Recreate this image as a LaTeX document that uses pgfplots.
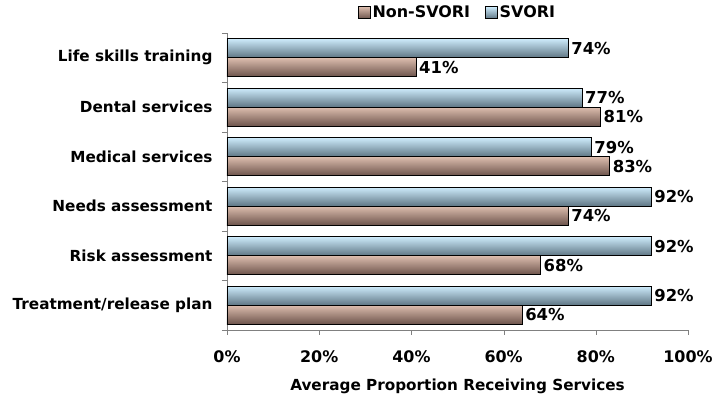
\documentclass[border=0pt]{standalone}
\usepackage{pgfplots}
\pgfplotsset{compat=1.18}
\usepackage{fontspec}
\setmainfont{DejaVu Sans}
\definecolor{bluetop}{HTML}{CDEBFB}
\definecolor{bluebot}{HTML}{5E7583}
\definecolor{browntop}{HTML}{DCBDAE}
\definecolor{brownbot}{HTML}{6C534B}
\definecolor{axgray}{HTML}{808080}
\pgfplotsset{
  nonsv/.style={draw=black, line width=0.8pt, top color=browntop, bottom color=brownbot, bar shift=-9.5bp},
  sv/.style={draw=black, line width=0.8pt, top color=bluetop, bottom color=bluebot, bar shift=9.5bp},
}
\begin{document}
\begin{tikzpicture}
\path[use as bounding box] (0,0) rectangle (716bp,400bp);
\begin{axis}[
  at={(227bp,70bp)}, anchor=south west,
  scale only axis, width=461bp, height=297bp,
  xbar=0pt, bar width=19bp,
  xmin=0, xmax=100, ymin=-0.5, ymax=5.5,
  axis x line*=bottom, axis y line*=left,
  axis line style={draw=axgray, -},
  xtick={0,20,...,100},
  xticklabel={\pgfmathprintnumber{\tick}\%},
  /pgf/number format/assume math mode=true,
  tick label style={font=\fontsize{16}{18}\selectfont\bfseries},
  x tick label style={yshift=-12bp},
  tick align=outside,
  major tick length=5bp,
  minor tick length=5bp,
  xtick style={draw=axgray},
  ytick={0,...,5},
  yticklabels={Treatment/release plan,Risk assessment,Needs assessment,Medical services,Dental services,Life skills training},
  ytick style={draw=none},
  minor ytick={-0.5,0.5,...,5.5},
  minor y tick style={draw=axgray},
  y tick label style={xshift=-6bp, font=\fontsize{15.3}{18}\selectfont\bfseries},
  xlabel={Average Proportion Receiving Services},
  xlabel style={font=\fontsize{15.3}{18}\selectfont\bfseries, yshift=-10bp},
  nodes near coords={\pgfmathprintnumber{\pgfplotspointmeta}\%},
  point meta=x,
  every node near coord/.append style={font=\fontsize{16.5}{18}\selectfont\bfseries, anchor=west, xshift=-0.5bp, black},
  legend style={at={(0.5,1.035)}, anchor=south, draw=none, legend columns=2,
    font=\fontsize{16}{18}\selectfont\bfseries, inner sep=1bp,
    /tikz/every even column/.append style={column sep=13bp}},
  legend image code/.code={\draw[#1, draw=black, line width=0.6pt] (0bp,-6bp) rectangle (12bp,6bp);},
]
\addplot[nonsv] coordinates {(64,0)};
\addlegendentry{Non-SVORI}
\addplot[nonsv, forget plot] coordinates {(68,1)};
\addplot[nonsv, forget plot] coordinates {(74,2)};
\addplot[nonsv, forget plot] coordinates {(83,3)};
\addplot[nonsv, forget plot] coordinates {(81,4)};
\addplot[nonsv, forget plot] coordinates {(41,5)};
\addplot[sv] coordinates {(92,0)};
\addlegendentry{SVORI}
\addplot[sv, forget plot] coordinates {(92,1)};
\addplot[sv, forget plot] coordinates {(92,2)};
\addplot[sv, forget plot] coordinates {(79,3)};
\addplot[sv, forget plot] coordinates {(77,4)};
\addplot[sv, forget plot] coordinates {(74,5)};
\end{axis}
\end{tikzpicture}
\end{document}
